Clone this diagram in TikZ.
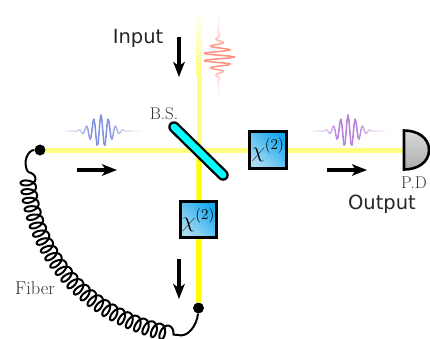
\documentclass[tikz,border=0pt]{standalone}
\usepackage{fontspec}
\newfontfamily\labelsans{DejaVu Sans}
\usetikzlibrary{decorations.pathmorphing,arrows.meta,shapes.geometric}
\definecolor{paleY}{HTML}{FFFF80}
\definecolor{brightY}{HTML}{FFFF00}
\definecolor{bsFill}{HTML}{00FFFF}
\definecolor{waveB}{HTML}{7F90DE}
\definecolor{waveP}{HTML}{B67FDA}
\definecolor{waveR}{HTML}{FF9080}
\definecolor{boxLight}{HTML}{A8DCF2}
\definecolor{boxDark}{HTML}{18A8F0}
\newcommand{\hpacket}[3]{%
  \foreach \k in {-40,...,39}{%
    \pgfmathsetmacro{\xa}{\k}\pgfmathsetmacro{\xb}{\k+1}%
    \pgfmathsetmacro{\pc}{min(100,25+100*exp(-(\k+.5)*(\k+.5)/(2*12*12))-25*pow(abs(\k)/40,3))}%
    \draw[packet,draw={#3!\pc!white}]
      ({#1+\xa},{#2-16*exp(-\xa*\xa/(2*9.5*9.5))*cos(\xa*49.3)}) --
      ({#1+\xb},{#2-16*exp(-\xb*\xb/(2*9.5*9.5))*cos(\xb*49.3)});
  }}
\newcommand{\vpacket}[3]{%
  \foreach \k in {-42,...,41}{%
    \pgfmathsetmacro{\xa}{\k}\pgfmathsetmacro{\xb}{\k+1}%
    \pgfmathsetmacro{\pc}{min(100,25+100*exp(-(\k+.5)*(\k+.5)/(2*12*12))-25*pow(abs(\k)/42,3))}%
    \draw[packet,draw={#3!\pc!white}]
      ({#1+16*exp(-\xa*\xa/(2*9.5*9.5))*cos(\xa*49.3)},{#2+\xa}) --
      ({#1+16*exp(-\xb*\xb/(2*9.5*9.5))*cos(\xb*49.3)},{#2+\xb});
  }}
\tikzset{
  packet/.style={line width=1.5pt,line cap=round},
  crystal/.style={draw=black,line width=2.8pt,minimum size=36.5pt,inner sep=0pt,
    shade,shading=axis,bottom color=boxLight,top color=boxDark,shading angle=-45},
  beampale/.style={paleY,line width=5pt},
  beambright/.style={brightY,line width=5pt},
  flow/.style={line width=3.2pt,-{Stealth[length=15pt,width=11.5pt,inset=4pt]}},
  fiberend/.style={circle,fill=black,inner sep=0pt,minimum size=11pt},
  fiberline/.style={black,line width=2pt},
  serifnote/.style={black!80,font=\fontsize{17}{19}\selectfont,inner sep=0pt},
  sansnote/.style={black!85,font=\labelsans\fontsize{19.5}{23}\selectfont,inner sep=0pt},
}
\begin{document}
\begin{tikzpicture}[x=1pt,y=-1pt]
\useasboundingbox (0,0) rectangle (430,338);
\coordinate (cross) at (199,150);
\node[fiberend] (f1) at (40,150) {};
\node[fiberend] (f2) at (198.5,308) {};
\coordinate (detin) at (404,150);
% beams
\shade[top color=white,bottom color=paleY] (196.5,10) rectangle (201.5,75);
\fill[paleY] (196.5,75) rectangle (201.5,150);
\draw[beampale] (f1) -- (cross) -- (detin);
\draw[beambright] (cross) -- (f2);
% beam splitter
\coordinate (bsa) at (174,127);
\coordinate (bsb) at (223,175);
\draw[black,line width=11.5pt,line cap=round] (bsa) -- (bsb);
\draw[bsFill,line width=6.8pt,line cap=round] (bsa) -- (bsb);
% crystals
\node[crystal] (c1) at (268,150) {\scalebox{1.05}{\fontsize{20.74}{24}\selectfont$\chi^{(2)}$}};
\node[crystal] (c2) at (198.5,219.5) {\scalebox{1.05}{\fontsize{20.74}{24}\selectfont$\chi^{(2)}$}};
% detector
\coordinate (pda) at (404,130.5);
\coordinate (pdb) at (404,169.5);
\shade[draw=black,line width=2.6pt,top color=black!15,bottom color=black!32]
  (pda) .. controls (418,130.5) and (429,138) .. (429,150)
  .. controls (429,162) and (418,169.5) .. (pdb) -- cycle;
% fiber
\coordinate (ca) at (28,172);
\coordinate (cb) at (178,335);
\draw[fiberline] (f1) .. controls (28,150) and (22,162) .. (ca);
\draw[fiberline,decorate,
  decoration={coil,amplitude=7.5pt,segment length=8.6pt,aspect=0.6}]
  (ca) .. controls (28,245) and (80,318) .. (cb);
\draw[fiberline] (cb) .. controls (188,338) and (197,325) .. (f2);
% wave packets
\hpacket{101}{131}{waveB}
\hpacket{348}{131}{waveP}
\vpacket{218.5}{57}{waveR}
% flow arrows
\coordinate (a1s) at (179,37);\coordinate (a1e) at (179,77);
\coordinate (a2s) at (77,170);\coordinate (a2e) at (117,170);
\coordinate (a3s) at (327,170);\coordinate (a3e) at (367,170);
\coordinate (a4s) at (179,259);\coordinate (a4e) at (179,299);
\draw[flow] (a1s) -- (a1e);
\draw[flow] (a2s) -- (a2e);
\draw[flow] (a3s) -- (a3e);
\draw[flow] (a4s) -- (a4e);
% labels
\node[sansnote] (input) at (138,38.5) {Input};
\node[sansnote] (output) at (382,204) {Output};
\node[serifnote] (bs) at (164,114) {B.S.};
\node[serifnote] (pd) at (414,183) {P.D};
\node[serifnote,font=\fontsize{18.5}{20}\selectfont] (fiber) at (35,288) {Fiber};
\end{tikzpicture}
\end{document}
